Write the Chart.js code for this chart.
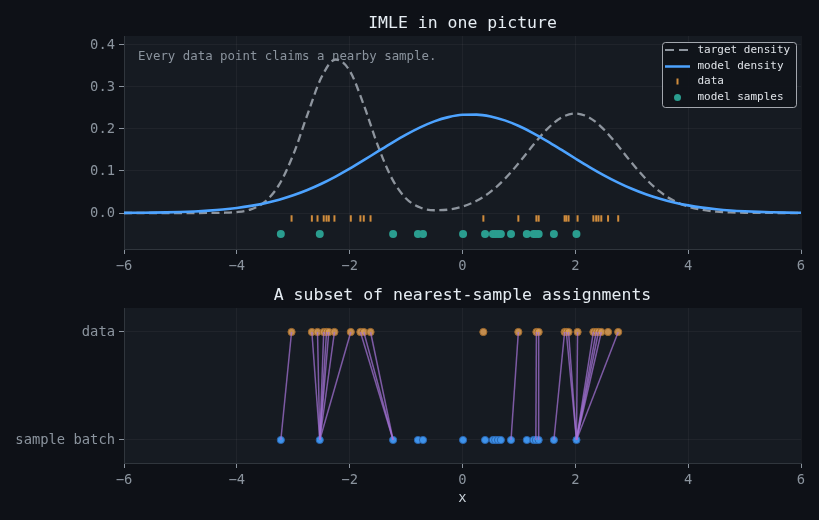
<!DOCTYPE html>
<html><head><meta charset="utf-8">
<script src="https://cdn.jsdelivr.net/npm/chart.js@4.4.1/dist/chart.umd.min.js"></script>
<style>
html,body{margin:0;padding:0;background:#0e1117;}
#wrap{position:relative;width:819px;height:520px;overflow:hidden;background:#0e1117;}
#c1{position:absolute;left:0;top:0;}
#c2{position:absolute;left:0;top:272px;}
</style></head><body>
<div id="wrap"><canvas id="c1" width="819" height="272"></canvas><canvas id="c2" width="819" height="248"></canvas></div>
<script>
// ---- data ----
const gridX = [-6,-5.75,-5.5,-5.25,-5,-4.75,-4.5,-4.25,-4,-3.75,-3.5,-3.25,-3,-2.75,-2.5,-2.25,-2,-1.75,-1.5,-1.25,-1,-0.75,-0.5,-0.25,0,0.25,0.5,0.75,1,1.25,1.5,1.75,2,2.25,2.5,2.75,3,3.25,3.5,3.75,4,4.25,4.5,4.75,5,5.25,5.5,5.75,6];
const targetDensity = [0,0,0,0,0,0,0.0001,0.0005,0.0023,0.0088,0.0269,0.0675,0.1388,0.2338,0.3230,0.3655,0.3388,0.2573,0.1603,0.0819,0.0346,0.0130,0.0066,0.0081,0.0154,0.0290,0.0507,0.0812,0.1194,0.1612,0.1997,0.2270,0.2370,0.2270,0.1997,0.1612,0.1194,0.0812,0.0507,0.0290,0.0153,0.0074,0.0033,0.0013,0.0005,0.0002,0.0001,0,0];
const modelDensity = [0.0003,0.0006,0.0009,0.0015,0.0024,0.0037,0.0056,0.0082,0.0119,0.0169,0.0234,0.0318,0.0422,0.0548,0.0696,0.0867,0.1055,0.1257,0.1466,0.1672,0.1867,0.2040,0.2182,0.2283,0.2338,0.2343,0.2298,0.2205,0.2071,0.1904,0.1712,0.1507,0.1298,0.1094,0.0903,0.0729,0.0576,0.0445,0.0337,0.0249,0.0181,0.0128,0.0089,0.0060,0.0040,0.0026,0.0017,0.0010,0.0006];
const dataPoints = [-3.03,-2.67,-2.57,-2.46,-2.41,-2.37,-2.27,-1.98,-1.81,-1.75,-1.63,0.37,0.99,1.31,1.35,1.81,1.84,1.88,2.04,2.32,2.37,2.41,2.46,2.58,2.76];
const modelSamples = [-3.22,-2.53,-1.23,-0.79,-0.70,0.01,0.40,0.54,0.58,0.63,0.68,0.86,1.14,1.26,1.30,1.35,1.62,2.02];
const omittedAssignments = [11, 23]; // data indices whose link is not drawn in the subset
const xTicks = [-6,-4,-2,0,2,4,6];
const yTicksTop = [0,0.1,0.2,0.3,0.4];
const yTicksBottom = [0,1];
const yLabelsBottom = ['sample batch','data'];
const legendLabels = ['target density','model density','data','model samples'];
const titleTop = 'IMLE in one picture';
const titleBottom = 'A subset of nearest-sample assignments';
const noteTop = 'Every data point claims a nearby sample.';

// ---- styling ----
const MONO = "'DejaVu Sans Mono', monospace";
Chart.defaults.font.family = MONO;
Chart.defaults.animation = false;
const C = {
  plotBg:'#161b22', grid:'rgba(255,255,255,0.045)', spine:'#30363d', tickMark:'#8b949e',
  tick:'#8b949e', title:'#e6edf3', target:'#8e959e', model:'#4da3ff', dataTick:'#d08c3c',
  sample:'#2a9d8f', dataFill:'rgba(214,154,84,0.9)', dataBorder:'#a06a2c',
  sFill:'#3f93ea', sBorder:'#2a66b0', link:'rgba(165,115,215,0.72)'
};
const fmtMinus = v => (v < 0 ? '\u2212' + Math.abs(v) : String(v));

const plotBg = {
  id:'plotBg',
  beforeDraw(chart){
    const {ctx, chartArea:a} = chart;
    ctx.save(); ctx.fillStyle = C.plotBg;
    ctx.fillRect(a.left, a.top, a.right - a.left, a.bottom - a.top);
    ctx.restore();
  }
};

const topDecor = {
  id:'topDecor',
  afterDraw(chart){
    const ctx = chart.ctx;
    ctx.save();
    ctx.font = '12.4px ' + MONO; ctx.fillStyle = '#8b949e';
    ctx.textBaseline = 'middle'; ctx.textAlign = 'left';
    ctx.fillText(noteTop, 138, 57);
    const bx = 662.5, by = 42.5, bw = 134, bh = 65;
    ctx.beginPath();
    if (ctx.roundRect) ctx.roundRect(bx, by, bw, bh, 3); else ctx.rect(bx, by, bw, bh);
    ctx.fillStyle = 'rgba(16,20,26,0.92)'; ctx.fill();
    ctx.strokeStyle = 'rgba(200,204,210,0.8)'; ctx.lineWidth = 1; ctx.stroke();
    const rows = [50, 66.5, 81.5, 97.5];
    ctx.strokeStyle = C.target; ctx.lineWidth = 2.2; ctx.setLineDash([9,5]);
    ctx.beginPath(); ctx.moveTo(665, rows[0]); ctx.lineTo(690, rows[0]); ctx.stroke();
    ctx.setLineDash([]);
    ctx.strokeStyle = C.model; ctx.lineWidth = 2.5;
    ctx.beginPath(); ctx.moveTo(665, rows[1]); ctx.lineTo(690, rows[1]); ctx.stroke();
    ctx.strokeStyle = C.dataTick; ctx.lineWidth = 2;
    ctx.beginPath(); ctx.moveTo(677.5, rows[2]-3); ctx.lineTo(677.5, rows[2]+3); ctx.stroke();
    ctx.fillStyle = C.sample;
    ctx.beginPath(); ctx.arc(677.5, rows[3], 3.5, 0, Math.PI*2); ctx.fill();
    ctx.font = '11px ' + MONO; ctx.fillStyle = '#dfe3e8';
    legendLabels.forEach((t,i) => ctx.fillText(t, 697.5, rows[i]));
    ctx.restore();
  }
};

function baseScales(yMin, yMax, yTicks, yCb, xHeight, withTitle){
  return {
    x:{type:'linear', min:-6, max:6,
      afterBuildTicks: s => { s.ticks = xTicks.map(v => ({value:v})); },
      afterFit: s => { s.height = xHeight; },
      ticks:{color:C.tick, font:{size:13.8}, padding:4, maxRotation:0, autoSkip:false, callback:fmtMinus},
      grid:{color:C.grid, tickColor:C.tickMark, tickLength:5, lineWidth:1},
      border:{display:true, color:C.spine},
      title: withTitle ? {display:true, text:'x', color:'#c9d1d9', font:{size:13.8}, padding:{top:0,bottom:13.5}} : {display:false}
    },
    y:{type:'linear', min:yMin, max:yMax,
      afterBuildTicks: s => { s.ticks = yTicks.map(v => ({value:v})); },
      afterFit: s => { s.width = 124; },
      ticks:{color:C.tick, font:{size:13.8}, padding:4, autoSkip:false, callback:yCb},
      grid:{color:C.grid, tickColor:C.tickMark, tickLength:5, lineWidth:1},
      border:{display:true, color:C.spine}
    }
  };
}

function titleOpts(text){
  return {display:true, text, color:C.title, font:{size:16.5, weight:'normal'},
    padding:{top:13.4, bottom:2.8}, fullSize:false};
}

// ---- top chart ----
new Chart(document.getElementById('c1'), {
  type:'scatter',
  data:{datasets:[
    {label:'data', data:dataPoints.map(x => ({x, y:-0.013})), pointStyle:'line', rotation:90,
      pointRadius:3.2, borderColor:C.dataTick, borderWidth:2, backgroundColor:C.dataTick, order:0},
    {label:'model samples', data:modelSamples.map(x => ({x, y:-0.05})), pointRadius:4,
      backgroundColor:C.sample, borderWidth:0, order:1},
    {label:'model density', data:gridX.map((x,i) => ({x, y:modelDensity[i]})), showLine:true,
      pointRadius:0, borderColor:C.model, borderWidth:2.6, cubicInterpolationMode:'monotone', order:2},
    {label:'target density', data:gridX.map((x,i) => ({x, y:targetDensity[i]})), showLine:true,
      pointRadius:0, borderColor:C.target, borderWidth:2.3, borderDash:[8,4.5], cubicInterpolationMode:'monotone', order:3}
  ]},
  options:{responsive:false, animation:false,
    layout:{padding:{left:0, right:18, top:0, bottom:0}},
    plugins:{legend:{display:false}, tooltip:{enabled:false}, title:titleOpts(titleTop)},
    scales: baseScales(-0.0857, 0.4214, yTicksTop, v => v.toFixed(1), 23, false)
  },
  plugins:[plotBg, topDecor]
});

// ---- bottom chart ----
function nearestSample(d){
  let best = modelSamples[0];
  modelSamples.forEach(s => { if (Math.abs(s - d) < Math.abs(best - d)) best = s; });
  return best;
}
const linkSets = dataPoints.map((d,i) => ({d,i})).filter(o => !omittedAssignments.includes(o.i)).map(o => ({
  type:'line', data:[{x:o.d, y:1}, {x:nearestSample(o.d), y:0}], borderColor:C.link, borderWidth:1.5,
  pointRadius:0, order:0
}));
new Chart(document.getElementById('c2'), {
  type:'scatter',
  data:{datasets:[
    ...linkSets,
    {label:'data', data:dataPoints.map(x => ({x, y:1})), pointRadius:3.6, backgroundColor:C.dataFill,
      borderColor:C.dataBorder, borderWidth:1, order:1},
    {label:'samples', data:modelSamples.map(x => ({x, y:0})), pointRadius:3.6, backgroundColor:C.sFill,
      borderColor:C.sBorder, borderWidth:1, order:1}
  ]},
  options:{responsive:false, animation:false,
    layout:{padding:{left:0, right:18, top:0, bottom:0}},
    plugins:{legend:{display:false}, tooltip:{enabled:false}, title:titleOpts(titleBottom)},
    scales: baseScales(-0.213, 1.222, yTicksBottom, v => yLabelsBottom[yTicksBottom.indexOf(v)], 57, true)
  },
  plugins:[plotBg]
});
</script>
</body></html>
